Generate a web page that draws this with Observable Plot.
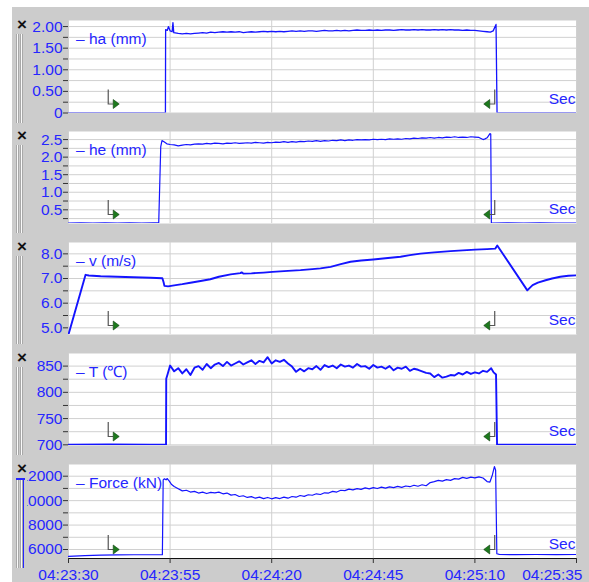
<!DOCTYPE html>
<html>
<head>
<meta charset="utf-8">
<script src="https://cdn.jsdelivr.net/npm/d3@7"></script>
<script src="https://cdn.jsdelivr.net/npm/@observablehq/plot@0.6"></script>
<style>
  body { margin: 0; background: white; }
  #root { position: relative; width: 589px; height: 582px; background: white; overflow: hidden; font-family: "Liberation Sans", Arial, sans-serif; }
  .bg { position: absolute; left: 12px; top: 7px; width: 577px; height: 575px; background: #cccccc; }
  .closer { position: absolute; font: bold 17px "Liberation Sans", Arial, sans-serif; color: #111; width: 12px; text-align: center; line-height: 12px; }
  .bar { position: absolute; width: 1px; background: #fafafa; border-left: 1px solid #a8a8a8; border-right: 1px solid #a8a8a8; }
  .pan { position: absolute; }
</style>
</head>
<body>
<div id="root"><div class="bg"></div></div>
<script>
// ---------- time axis (seconds after 04:23:30) ----------
const startClock = [4, 23, 30];
const xTicks = [0, 25, 50, 75, 100, 125];
const markerTimes = [9.9, 105.0];

// ---------- panel 1 : ha (mm) ----------
const haTicks = [0, 0.25, 0.5, 0.75, 1, 1.25, 1.5, 1.75, 2];
const haLabels = [0, 0.5, 1, 1.5, 2];
const haLead = [[0,0],[23.85,0],[23.9,1.93],[24.3,1.91],[24.6,2.0],[25.0,1.9],[25.5,1.88],[25.7,2.09],[25.9,1.86]];
const haBodyStart = 27;
const haBody = [1.84,1.83,1.84,1.83,1.84,1.85,1.86,1.85,1.87,1.86,1.87,1.88,1.87,1.88,1.87,1.88,1.86,1.87,1.88,1.87,
  1.88,1.89,1.88,1.89,1.88,1.89,1.88,1.89,1.90,1.89,1.90,1.89,1.90,1.90,1.89,1.90,1.91,1.90,1.90,1.91,
  1.90,1.91,1.90,1.91,1.92,1.91,1.91,1.92,1.91,1.92,1.91,1.92,1.92,1.91,1.92,1.93,1.92,1.92,1.93,1.92,
  1.93,1.92,1.92,1.93,1.92,1.93,1.92,1.93,1.92,1.92,1.91,1.92,1.91,1.91,1.90,1.89];
const haTail = [[103,1.88],[103.8,1.87],[104.5,1.9],[105.2,2.05],[105.45,0],[125,0]];

// ---------- panel 2 : he (mm) ----------
const heTicks = [0.25, 0.5, 0.75, 1, 1.25, 1.5, 1.75, 2, 2.25, 2.5];
const heLabels = [0.5, 1, 1.5, 2, 2.5];
const heLead = [[0,0.12],[3,0.13],[6,0.12],[9,0.13],[12,0.12],[15,0.13],[18,0.12],[21,0.13],[22.2,0.13],[22.7,2.3],[23.0,2.47],[23.5,2.44],[24.2,2.38]];
const heBodyStart = 25;
const heBody = [2.36,2.35,2.32,2.34,2.36,2.35,2.37,2.38,2.37,2.39,2.38,2.40,2.39,2.38,2.40,2.39,2.41,2.39,2.40,2.41,
  2.40,2.42,2.41,2.40,2.42,2.41,2.43,2.42,2.44,2.42,2.44,2.43,2.45,2.44,2.46,2.45,2.47,2.45,2.47,2.46,
  2.48,2.47,2.49,2.47,2.49,2.48,2.50,2.49,2.50,2.49,2.51,2.50,2.51,2.50,2.52,2.51,2.52,2.51,2.53,2.52,
  2.54,2.53,2.55,2.54,2.56,2.54,2.56,2.55,2.57,2.56,2.58,2.56,2.57,2.56,2.58,2.57,2.56];
const heTail = [[102,2.50],[102.5,2.52],[103,2.55],[103.7,2.67],[103.9,2.66],[104.05,0.13],[104.3,0.12],[108,0.13],[112,0.12],[116,0.13],[120,0.12],[125,0.12]];

// ---------- panel 3 : v (m/s) ----------
const vTicks = [5, 5.5, 6, 6.5, 7, 7.5, 8];
const vLabels = [5, 6, 7, 8];
const vPoints = [[0,4.73],[4.2,7.15],[5,7.12],[7.9,7.09],[12,7.07],[16,7.05],[20.2,7.03],[23.1,7.01],[23.4,6.85],[23.6,6.70],
  [24.5,6.68],[26,6.72],[28,6.77],[30,6.83],[32.5,6.90],[34.9,6.97],[37,7.07],[39.9,7.17],[42.3,7.22],[42.6,7.25],
  [43.0,7.20],[45,7.21],[48,7.24],[50.2,7.27],[54,7.31],[57.1,7.34],[60,7.38],[62,7.41],[64.5,7.47],[67,7.58],
  [69.4,7.68],[72,7.73],[75,7.77],[78,7.82],[81.7,7.88],[84,7.95],[86.6,8.01],[90,8.06],[94,8.11],[97,8.14],
  [100.1,8.17],[103,8.19],[105,8.21],[105.5,8.34],[112.9,6.52],[113.5,6.62],[114.2,6.73],[115.5,6.83],[117.4,6.93],
  [119,7.0],[121,7.07],[123,7.11],[125,7.13]];

// ---------- panel 4 : T (℃) ----------
const tTicks = [700, 725, 750, 775, 800, 825, 850];
const tLabels = [700, 750, 800, 850];
const tLead = [[0,700],[10,700.5],[20,700],[24.0,700],[24.05,826],[24.4,835]];
const tBodyStart = 25;
const tBody = [851,840,846,836,844,833,847,850,843,854,846,853,856,850,858,851,855,859,853,857,
  861,854,860,857,867,855,861,858,862,855,849,839,845,840,846,844,850,843,852,848,
  851,846,853,849,851,847,854,849,850,845,852,847,849,845,850,842,847,845,849,841,
  845,843,840,837,836,829,834,828,830,833,832,837,834,839,835,838,836,841,839,846];
const tTail = [[104.6,838],[105.2,834],[105.45,700],[110,700],[125,700]];

// ---------- panel 5 : Force (kN) ----------
const fTicks = [6000, 7000, 8000, 9000, 10000, 11000, 12000];
const fLabels = [6000, 8000, 10000, 12000];
const fLead = [[0,5430],[4,5500],[8,5540],[12,5560],[16,5570],[20,5570],[23.1,5580],[23.3,11700],[23.6,11790],[24.0,11700],[24.3,11810],[24.8,11600],[25.3,11345]];
const fBodyStart = 26;
const fBody = [11160,10980,10800,10850,10700,10760,10620,10700,10580,10680,10640,10700,10560,10620,10450,10500,10340,10400,10260,10330,
  10200,10290,10160,10260,10150,10240,10170,10290,10200,10340,10280,10420,10350,10480,10440,10560,10500,10640,10620,10760,
  10700,10850,10820,10940,10880,10980,10920,11040,10960,11060,10990,11100,11020,11130,11060,11170,11090,11200,11140,11260,
  11180,11300,11220,11480,11560,11660,11600,11720,11660,11800,11760,11900,11820,11920,11860,11940,11850,11560];
const fTail = [[103.7,11520],[104.3,12100],[104.8,12790],[105.1,12500],[105.4,5650],[106,5600],[110,5580],[115,5590],[120,5580],[125,5590]];

// ---------- helpers ----------
function build(lead, bodyStart, body, tail) {
  const out = lead.map(([t, v]) => ({t, v}));
  body.forEach((v, i) => out.push({t: bodyStart + i, v}));
  tail.forEach(([t, v]) => out.push({t, v}));
  return out;
}
const pts = a => a.map(([t, v]) => ({t, v}));
const pad = n => String(n).padStart(2, "0");
function clock(t) {
  let s = startClock[0] * 3600 + startClock[1] * 60 + startClock[2] + t;
  const h = Math.floor(s / 3600); s -= h * 3600;
  const m = Math.floor(s / 60); s -= m * 60;
  return pad(h) + ":" + pad(m) + ":" + pad(Math.round(s));
}

const BLUE_TEXT = "#2626ff";
const BLUE_LINE = "#1414ff";
const GRID = "#d0d0d0";
const FS = 15.5;

const panels = [
  {top: 20, bottom: 112.5, domain: [0, 2.14], ticks: haTicks, labels: haLabels, fmt: d => d === 0 ? "0" : d.toFixed(2),
   name: "– ha (mm)", data: build(haLead, haBodyStart, haBody, haTail), sw: 1.3},
  {top: 131, bottom: 223, domain: [0.11, 2.73], ticks: heTicks, labels: heLabels, fmt: d => d.toFixed(1),
   name: "– he (mm)", data: build(heLead, heBodyStart, heBody, heTail), sw: 1.2},
  {top: 242, bottom: 334, domain: [4.73, 8.46], ticks: vTicks, labels: vLabels, fmt: d => d.toFixed(1),
   name: "– v (m/s)", data: pts(vPoints), sw: 1.9},
  {top: 353, bottom: 445, domain: [698.7, 874], ticks: tTicks, labels: tLabels, fmt: d => String(d),
   name: "– T (℃)", data: build(tLead, tBodyStart, tBody, tTail), sw: 1.9},
  {top: 464, bottom: 558, domain: [5264, 12957], ticks: fTicks, labels: fLabels, fmt: d => String(d),
   name: "– Force (kN)", data: build(fLead, fBodyStart, fBody, fTail), sw: 1.2, last: true}
];

const root = document.getElementById("root");

panels.forEach((p, i) => {
  const h = p.bottom - p.top;
  const mb = p.last ? 24 : 0;
  const marks = [
    Plot.frame({fill: "white"}),
    Plot.gridY(p.ticks, {y: d => d, stroke: GRID, strokeOpacity: 1}),
    Plot.gridX(xTicks, {x: d => d, stroke: GRID, strokeOpacity: 1}),
    Plot.axisY({ticks: p.ticks, tickSize: 5, tickFormat: () => "", stroke: "#333", label: null}),
    Plot.text(p.labels, {y: d => d, text: p.fmt, frameAnchor: "left", textAnchor: "end", dx: -6, fill: BLUE_TEXT, fontSize: FS}),
    Plot.line(p.data, {x: "t", y: "v", stroke: BLUE_LINE, strokeWidth: p.sw, clip: true}),
    Plot.text([p.name], {text: d => d, frameAnchor: "top-left", dx: 7.5, dy: 18.5, lineAnchor: "middle", textAnchor: "start", fill: BLUE_TEXT, fontSize: FS}),
    Plot.text(["Sec"], {text: d => d, frameAnchor: "bottom-right", dx: -1, dy: -14, lineAnchor: "middle", textAnchor: "end", fill: BLUE_TEXT, fontSize: FS})
  ];
  if (p.last) {
    marks.push(
      Plot.ruleY([p.domain[0]], {stroke: "#111"}),
      Plot.axisX({ticks: xTicks, tickSize: 5, tickFormat: () => "", stroke: "#333", label: null}),
      Plot.text(xTicks.slice(0, -1), {x: d => d, text: clock, frameAnchor: "bottom", lineAnchor: "top", dy: 10, fill: BLUE_TEXT, fontSize: FS}),
      Plot.text(xTicks.slice(-1), {x: d => d, text: clock, frameAnchor: "bottom", lineAnchor: "top", dy: 10, dx: 6, textAnchor: "end", fill: BLUE_TEXT, fontSize: FS})
    );
  }
  const plot = Plot.plot({
    width: 589, height: h + mb,
    marginLeft: 68, marginRight: 13, marginTop: 0, marginBottom: mb,
    x: p.last ? {domain: [0, 125], label: null} : {domain: [0, 125], axis: null, label: null},
    y: {domain: p.domain, label: null},
    style: {background: "transparent", overflow: "visible", maxWidth: "none", fontFamily: '"Liberation Sans", Arial, sans-serif', fontSize: FS + "px"},
    marks
  });

  // start / stop markers drawn through the plot's x scale
  const sx = plot.scale("x");
  const b = h;
  const svg = d3.select(plot);
  const g = svg.append("g");
  const [ta, tb] = markerTimes;
  const pa = sx.apply(ta), pb = sx.apply(tb);
  g.append("path").attr("d", `M${pa},${b - 23}V${b - 8.5}H${pa + 5}`).attr("fill", "none").attr("stroke", "#555").attr("stroke-width", 1.2);
  g.append("path").attr("d", `M${pa + 5},${b - 13}L${pa + 11},${b - 8.5}L${pa + 5},${b - 4}Z`).attr("fill", "#1d7a1d").attr("stroke", "#0c3d0c").attr("stroke-width", 0.6);
  g.append("path").attr("d", `M${pb},${b - 23}V${b - 8.5}H${pb - 5}`).attr("fill", "none").attr("stroke", "#555").attr("stroke-width", 1.2);
  g.append("path").attr("d", `M${pb - 5},${b - 13}L${pb - 11},${b - 8.5}L${pb - 5},${b - 4}Z`).attr("fill", "#1d7a1d").attr("stroke", "#0c3d0c").attr("stroke-width", 0.6);

  const wrap = document.createElement("div");
  wrap.className = "pan";
  if (p.last) {
    wrap.style.cssText = `left:27px;top:${p.top}px;width:562px;height:${h + mb}px;overflow:hidden;`;
    plot.style.position = "absolute";
    plot.style.left = "-27px";
    plot.style.top = "0px";
  } else {
    wrap.style.cssText = `left:0px;top:${p.top}px;`;
  }
  wrap.appendChild(plot);
  root.appendChild(wrap);

  // left-hand widget: close mark and double bars
  const x = document.createElement("div");
  x.className = "closer"; x.textContent = "×";
  x.style.left = "16px"; x.style.top = (p.top - 1) + "px";
  root.appendChild(x);
  [16, 20].forEach(L => {
    const bar = document.createElement("div");
    bar.className = "bar";
    bar.style.left = L + "px";
    bar.style.top = (p.top + 14) + "px";
    bar.style.height = (h - 4) + "px";
    root.appendChild(bar);
  });
  if (p.last) {
    const bl = document.createElement("div");
    bl.style.cssText = `position:absolute;left:23px;top:${p.top + 15}px;width:1px;height:${h - 5}px;background:#2626ff;`;
    root.appendChild(bl);
    const bh = document.createElement("div");
    bh.style.cssText = `position:absolute;left:16px;top:${p.top + 14}px;width:9px;height:1.5px;background:#2626ff;`;
    root.appendChild(bh);
  }
});
</script>
</body>
</html>
